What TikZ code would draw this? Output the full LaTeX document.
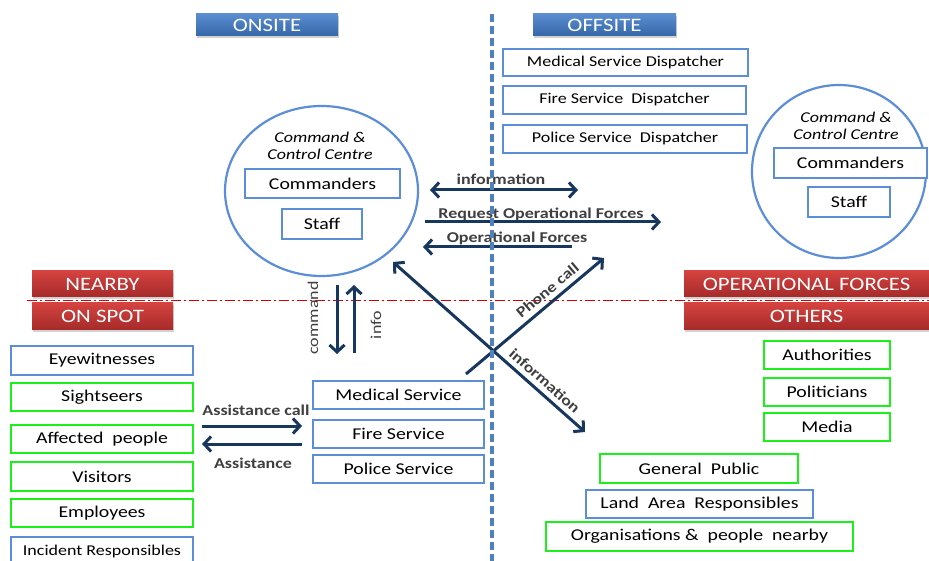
\documentclass[tikz,border=0pt]{standalone}
\usepackage{fontspec}
\setmainfont[FakeStretch=1.2]{Carlito}
\usetikzlibrary{arrows.meta,shadows,shapes.geometric}
\definecolor{boxblue}{HTML}{5B8ED6}
\definecolor{boxgreen}{HTML}{1AF01A}
\definecolor{navy}{HTML}{17375E}
\definecolor{lbl}{HTML}{3F3F3F}
\definecolor{hbtop}{HTML}{5A8ED0}
\definecolor{hbbot}{HTML}{3566A8}
\definecolor{hrtop}{HTML}{D4433F}
\definecolor{hrbot}{HTML}{A52A2A}
\definecolor{dashblue}{HTML}{4F81BD}
\tikzset{
  bx/.style={draw=boxblue,line width=2.2pt,fill=white,rectangle,inner sep=0pt,font=\fontsize{16.5pt}{19pt}\selectfont},
  gbx/.style={bx,draw=boxgreen,line width=2.4pt},
  hdrb/.style={rectangle,inner sep=0pt,text=white,top color=hbtop,bottom color=hbbot,
     font=\fontsize{19pt}{22pt}\selectfont,drop shadow={shadow xshift=1pt,shadow yshift=-2pt,opacity=0.35}},
  hdrr/.style={hdrb,top color=hrtop,bottom color=hrbot},
  ccc/.style={draw=boxblue,line width=2.2pt,ellipse,inner sep=0pt},
  arr/.style={draw=navy,line width=3pt,-{Straight Barb[length=7pt,width=15pt,line width=3pt]}},
  darr/.style={draw=navy,line width=3pt,{Straight Barb[length=7pt,width=15pt,line width=3pt]}-{Straight Barb[length=7pt,width=15pt,line width=3pt]}},
  alab/.style={text=lbl,font=\bfseries\fontsize{15pt}{17pt}\selectfont,inner sep=0pt},
  rlab/.style={text=lbl,font=\fontsize{15pt}{17pt}\selectfont,inner sep=0pt},
  ital/.style={font=\itshape\fontsize{15pt}{18pt}\selectfont,align=center,inner sep=0pt}
}
\begin{document}
\begin{tikzpicture}[x=1pt,y=-1pt]
\useasboundingbox (0,0) rectangle (929,561);
\fill[white] (0,0) rectangle (929,561);
% red dash-dot separator
\draw[red!85!black,line width=0.9pt,dash pattern=on 10pt off 3pt on 2pt off 3pt] (27,300.5) coordinate (rl) -- (929,300.5) coordinate (rr);
% headers
\node[hdrb,minimum width=142pt,minimum height=22pt] (onsite) at (267,25) {ONSITE};
\node[hdrb,minimum width=143pt,minimum height=22pt] (offsite) at (604.5,25) {OFFSITE};
\node[hdrr,minimum width=141pt,minimum height=26pt] (nearby) at (102.5,284) {NEARBY};
\node[hdrr,minimum width=141pt,minimum height=27pt] (onspot) at (102.5,316.5) {ON SPOT};
\node[hdrr,minimum width=245pt,minimum height=26pt] (opf) at (806.5,284) {OPERATIONAL FORCES};
\node[hdrr,minimum width=245pt,minimum height=27pt] (others) at (806.5,316.5) {OTHERS};
% dispatchers
\node[bx,font=\fontsize{15pt}{18pt}\selectfont,minimum width=245pt,minimum height=27pt] (mdisp) at (625.5,62.5) {Medical Service Dispatcher};
\node[bx,font=\fontsize{15pt}{18pt}\selectfont,minimum width=243pt,minimum height=28pt] (fdisp) at (624.5,100) {Fire Service\ \ Dispatcher};
\node[bx,font=\fontsize{15pt}{18pt}\selectfont,minimum width=244pt,minimum height=28pt] (pdisp) at (625,139) {Police Service\ \ Dispatcher};
% onsite command centre
\node[ccc,minimum width=193pt,minimum height=170pt] (lcc) at (321.5,191) {};
\node[ital] (lcct) at (320,146) {Command \&\\[-1pt]Control Centre};
\node[bx,minimum width=155pt,minimum height=29pt] (lcom) at (322.5,183.5) {Commanders};
\node[bx,minimum width=80pt,minimum height=30pt] (lstaff) at (322,224) {Staff};
% offsite command centre
\node[ccc,minimum width=174pt,minimum height=173pt] (rcc) at (839,171.5) {};
\node[ital] (rcct) at (846,126) {Command \&\\[-1pt]Control Centre};
\node[bx,minimum width=153pt,minimum height=30pt] (rcom) at (850.5,163) {Commanders};
\node[bx,minimum width=82pt,minimum height=30pt] (rstaff) at (849,202) {Staff};
% on spot column
\node[bx,minimum width=182pt,minimum height=29pt] (eye) at (102,360.5) {Eyewitnesses};
\node[gbx,minimum width=182pt,minimum height=28pt] (sight) at (102,397) {Sightseers};
\node[gbx,minimum width=182pt,minimum height=28pt] (aff) at (102,439) {Affected\ \ people};
\node[gbx,minimum width=182pt,minimum height=29pt] (vis) at (102,476.5) {Visitors};
\node[gbx,minimum width=182pt,minimum height=28pt] (emp) at (102,513) {Employees};
\node[bx,minimum width=182pt,minimum height=28pt,font=\fontsize{15pt}{18pt}\selectfont] (inc) at (102,551) {Incident Responsibles};
% services
\node[bx,minimum width=171pt,minimum height=28pt] (med) at (398.5,395) {Medical Service};
\node[bx,minimum width=171pt,minimum height=28pt] (fire) at (398.5,434) {Fire Service};
\node[bx,minimum width=171pt,minimum height=28pt] (pol) at (398.5,469) {Police Service};
% others
\node[gbx,minimum width=126pt,minimum height=28pt] (auth) at (827,355) {Authorities};
\node[gbx,minimum width=126pt,minimum height=28pt] (polit) at (827,392) {Politicians};
\node[gbx,minimum width=126pt,minimum height=28pt] (media) at (827,427) {Media};
\node[gbx,minimum width=198pt,minimum height=29pt] (gp) at (699,468.5) {General\ \ Public};
\node[bx,minimum width=227pt,minimum height=28pt] (land) at (699.5,504) {Land\ \ Area\ \ Responsibles};
\node[gbx,minimum width=307pt,minimum height=29pt] (org) at (699.5,536.5) {Organisations\ \&\ \ people\ \ nearby};
% connector end points
\coordinate (i1) at (430,190); \coordinate (i2) at (578,190);
\coordinate (r1) at (425,222); \coordinate (r2) at (661,222);
\coordinate (o1) at (572,247); \coordinate (o2) at (423,247);
\coordinate (c1) at (337,285); \coordinate (c2) at (337,354);
\coordinate (f1) at (354,353); \coordinate (f2) at (354,285);
\coordinate (d1) at (393,262); \coordinate (d2) at (585,432);
\coordinate (p1) at (466,374); \coordinate (p2) at (604,258);
\coordinate (a1) at (202,426); \coordinate (a2) at (302,426);
\coordinate (b1) at (302,444); \coordinate (b2) at (202,444);
% connectors
\draw[darr] (i1) -- (i2);
\node[alab] (il) at (501,179) {information};
\draw[arr] (r1) -- (r2);
\node[alab] (rlb) at (541,214) {Request Operational Forces};
\draw[arr] (o1) -- (o2);
\node[alab] (olb) at (517,238) {Operational Forces};
\draw[arr] (c1) -- (c2);
\node[rlab,rotate=90] (cl) at (313,318) {command};
\draw[arr] (f1) -- (f2);
\node[rlab,rotate=90] (fl) at (376,325) {info};
\draw[darr] (d1) -- node[alab,sloped,pos=0.75,above=5pt] (dl) {information} (d2);
\draw[arr] (p1) -- node[alab,sloped,pos=0.645,above=5pt] (pl) {Phone call} (p2);
\draw[arr] (a1) -- (a2);
\node[alab] (al) at (256,410) {Assistance call};
\draw[arr] (b1) -- (b2);
\node[alab] (bl) at (253,463) {Assistance};
% dashed onsite/offsite separator
\draw[dashblue,line width=3.2pt,dash pattern=on 8pt off 4pt] (492,14) coordinate (vt) -- (492,561) coordinate (vb);
\end{tikzpicture}
\end{document}
